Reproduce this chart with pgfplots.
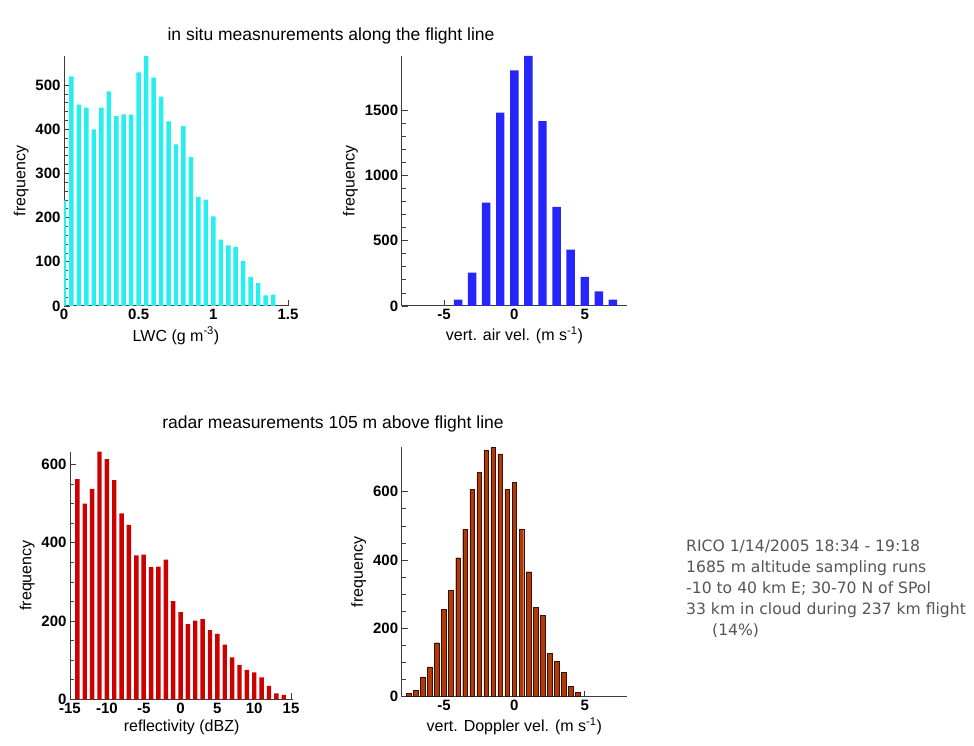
\documentclass[border=0pt]{standalone}
\usepackage{fontspec}
\setmainfont{Liberation Sans}
\newfontfamily\notefont{DejaVu Sans}
\usepackage{pgfplots}
\pgfplotsset{compat=1.18}

\definecolor{axgray}{RGB}{60,60,60}
\definecolor{lwccol}{RGB}{40,238,238}
\definecolor{wcol}{RGB}{38,38,250}
\definecolor{dbzcol}{RGB}{205,0,0}
\definecolor{dopcol}{RGB}{178,58,10}
\definecolor{txtgray}{RGB}{85,85,85}

\pgfplotsset{
  panel/.style={
    scale only axis,
    anchor=south west,
    axis lines*=left,
    enlargelimits=false,
    ymin=0,
    clip=true,
    axis line style={line width=1pt, color=axgray},
    tick style={color=axgray, line width=0.8pt},
    tick align=inside,
    major tick length=6pt,
    minor tick length=4pt,
    ticklabel style={font=\fontsize{15}{15}\selectfont\bfseries},
    label style={font=\fontsize{16}{16}\selectfont},
    ylabel={frequency},
    /pgf/number format/assume math mode=true,
    /pgf/number format/1000 sep={},
  },
}

\begin{document}
\begin{tikzpicture}
\path[fill=white] (0pt,0pt) rectangle (974pt,746pt);

% ---------- top left: LWC ----------
\begin{axis}[panel,
  at={(64pt,440pt)}, width=224pt, height=250pt,
  xmin=0, xmax=1.5, ymax=566,
  xtick={0,0.5,1,1.5}, minor x tick num=4,
  ytick={0,100,200,300,400,500}, minor y tick num=4,
  xlabel={LWC (g m\textsuperscript{-3})},
]
\addplot[ybar, bar width=0.03, fill=lwccol, draw=none] coordinates {
(0,239)(0.05,520)(0.1,456)(0.15,449)(0.2,400)(0.25,449)(0.3,486)(0.35,430)
(0.4,434)(0.45,433)(0.5,529)(0.55,566)(0.6,517)(0.65,474)(0.7,418)(0.75,366)
(0.8,407)(0.85,337)(0.9,247)(0.95,241)(1.0,203)(1.05,150)(1.1,137)(1.15,134)
(1.2,102)(1.25,66)(1.3,52)(1.35,24)(1.4,26)};
\end{axis}

% ---------- top right: vertical air velocity ----------
\begin{axis}[panel,
  at={(401.7pt,440pt)}, width=225.3pt, height=250pt,
  xmin=-8, xmax=8, ymax=1914,
  xtick={-5,0,5}, minor x tick num=4,
  ytick={0,500,1000,1500}, minor y tick num=4,
  xlabel={vert. air vel. (m s\textsuperscript{-1})},
]
\addplot[ybar, bar width=0.6, fill=wcol, draw=none] coordinates {
(-4,49)(-3,256)(-2,792)(-1,1480)(0,1804)(1,1914)(2,1416)(3,759)
(4,432)(5,222)(6,112)(7,49)};
\end{axis}

% ---------- bottom left: reflectivity ----------
\begin{axis}[panel,
  at={(70pt,46.7pt)}, width=223.3pt, height=247.6pt,
  xmin=-15, xmax=15.3, ymax=633,
  xtick={-15,-10,-5,0,5,10,15},
  ytick={0,200,400,600}, minor y tick num=3,
  xlabel={reflectivity (dBZ)},
]
\addplot[ybar, bar width=0.6, fill=dbzcol, draw=none] coordinates {
(-14,563)(-13,500)(-12,538)(-11,633)(-10,614)(-9,560)(-8,475)(-7,446)
(-6,368)(-5,370)(-4,338)(-3,339)(-2,357)(-1,251)(0,223)(1,192)(2,201)
(3,205)(4,177)(5,167)(6,140)(7,107)(8,88)(9,75)(10,69)(11,56)(12,34)
(13,15)(14,11)};
\end{axis}

% ---------- bottom right: Doppler velocity ----------
\begin{axis}[panel,
  at={(401.7pt,49.3pt)}, width=225.3pt, height=249.3pt,
  xmin=-8, xmax=8, ymax=730,
  xtick={-5,0,5}, minor x tick num=4,
  ytick={0,200,400,600}, minor y tick num=3,
  xlabel={vert. Doppler vel. (m s\textsuperscript{-1})},
]
\addplot[ybar, bar width=0.33, fill=dopcol, draw=black!70!dopcol, line width=0.4pt] coordinates {
(-7.5,10)(-7,18)(-6.5,58)(-6,87)(-5.5,158)(-5,255)(-4.5,311)(-4,407)
(-3.5,490)(-3,608)(-2.5,657)(-2,721)(-1.5,730)(-1,711)(-0.5,608)(0,627)
(0.5,491)(1,366)(1.5,261)(2,238)(2.5,126)(3,104)(3.5,72)(4,30)(4.5,13)};
\end{axis}

% ---------- titles ----------
\node[font=\fontsize{17.5}{17.5}\selectfont] at (331pt,710pt) {in situ measnurements along the flight line};
\node[font=\fontsize{17.5}{17.5}\selectfont] at (333pt,322pt) {radar measurements 105 m above flight line};

% ---------- flight notes ----------
\begin{scope}[every node/.style={anchor=base west, inner sep=0pt,
    text=txtgray, font=\notefont\fontsize{15.6}{15.6}\selectfont}]
\node at (686pt,194pt) {RICO 1/14/2005 18:34 - 19:18};
\node at (686pt,173pt) {1685 m altitude sampling runs};
\node at (686pt,152pt) {-10 to 40 km E; 30-70 N of SPol};
\node at (686pt,131pt) {33 km in cloud during 237 km flight};
\node at (712pt,110pt) {(14\%)};
\end{scope}
\end{tikzpicture}
\end{document}
